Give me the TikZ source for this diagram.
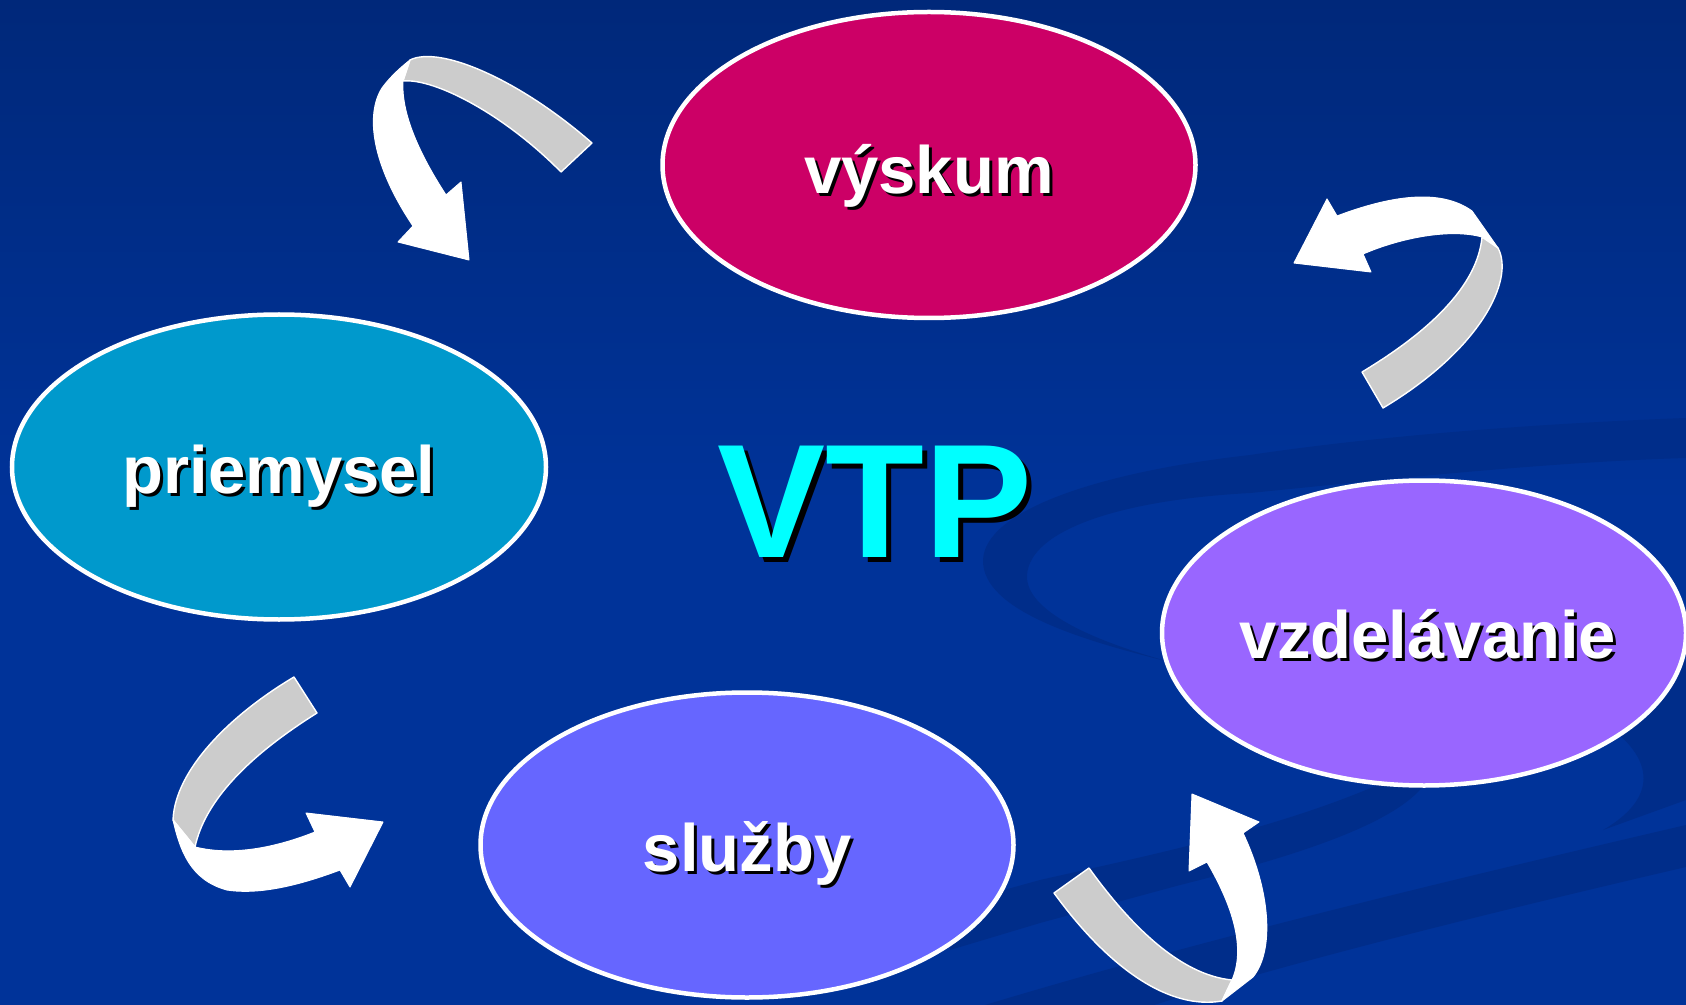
\documentclass[tikz,border=0pt]{standalone}
\usepackage{fontspec}
\setmainfont{Liberation Sans}
\usetikzlibrary{shapes.geometric}
\definecolor{bgblue}{HTML}{003399}
\definecolor{bgtop}{HTML}{00287A}
\definecolor{swirl}{HTML}{002D8A}
\definecolor{cvys}{HTML}{CC0066}
\definecolor{cpri}{HTML}{0099CC}
\definecolor{cvzd}{HTML}{9966FF}
\definecolor{csl}{HTML}{6666FF}
\definecolor{ribbon}{HTML}{CCCCCC}
\definecolor{vtpc}{HTML}{00FFFF}
\begin{document}
\begin{tikzpicture}[x=0.5pt,y=-0.5pt,
  bubble/.style={ellipse, draw=white, line width=2.25pt, inner sep=0pt},
  lbl/.style={anchor=base, font=\fontsize{33.5}{40}\selectfont\bfseries, inner sep=0pt, text=white},
  lblshadow/.style={lbl, text=black},
  bigtxt/.style={anchor=base, font=\fontsize{81}{90}\selectfont\bfseries, inner sep=0pt, text=vtpc},
  bigshadow/.style={bigtxt, text=black},
  ribbonpart/.style={fill=ribbon, draw=white, line width=0.7pt, line join=round},
  headpart/.style={fill=white, draw=white, line width=0.5pt, line join=round},
  swirlband/.style={fill=swirl}
]
\useasboundingbox (0,0) rectangle (1686,1005);
\shade[top color=bgtop, bottom color=bgblue, middle color=bgblue] (0,0) rectangle (1686,1005);
% background swirls
\path[swirlband] (1686,418) .. controls (1500,425) and (1350,440) .. (1250,455)
  .. controls (1100,472) and (985,510) .. (983,560)
  .. controls (982,610) and (1080,640) .. (1170,662)
  .. controls (1090,640) and (1025,610) .. (1027,575)
  .. controls (1030,530) and (1120,500) .. (1250,493)
  .. controls (1400,478) and (1550,462) .. (1686,458) -- cycle;
\path[swirlband] (950,905) -- (1040,880) .. controls (1150,855) and (1300,825) .. (1410,770)
  -- (1430,775) .. controls (1410,820) and (1300,855) .. (1180,885)
  -- (1040,923) -- (950,950) -- cycle;
\path[swirlband] (1603,830) .. controls (1655,800) and (1660,760) .. (1600,720)
  -- (1686,660) -- (1686,800) -- cycle;
\path[swirlband] (985,1005) .. controls (1200,940) and (1450,880) .. (1686,825)
  -- (1686,867) .. controls (1480,915) and (1300,960) .. (1154,1005) -- cycle;

% ellipses
\node[bubble, fill=cvys, minimum width=266.5pt, minimum height=153pt] (vys) at (929,165) {};
\node[bubble, fill=cpri, minimum width=267pt, minimum height=152.5pt] (pri) at (279,467) {};
\node[bubble, fill=cvzd, minimum width=262pt, minimum height=152.5pt] (vzd) at (1424,633) {};
\node[bubble, fill=csl, minimum width=266.5pt, minimum height=152.5pt] (sl) at (747,845) {};

% labels
\node[lblshadow] (vyss) at (932,196.5) {výskum};
\node[lbl] (vyst) at (929,193.5) {výskum};
\node[lblshadow] (pris) at (282,496) {priemysel};
\node[lbl] (prit) at (279,493) {priemysel};
\node[lblshadow] (vzds) at (1431,661) {vzdelávanie};
\node[lbl] (vzdt) at (1428,658) {vzdelávanie};
\node[lblshadow] (sls) at (750,874) {služby};
\node[lbl] (slt) at (747,871) {služby};
\node[bigshadow] (vtps) at (880,562) {VTP};
\node[bigtxt] (vtpt) at (875,557) {VTP};

% arrow 1 (top-left)
\path[ribbonpart] (410,60) .. controls (440,45) and (520,80) .. (592,143) -- (561,172) .. controls (505,115) and (435,78) .. (403,81) -- cycle;
\path[headpart] (410,60) .. controls (395,72) and (388,80) .. (382,88) .. controls (365,115) and (372,165) .. (413,226) -- (398,242) -- (469,260) -- (461,182) -- (446,195) .. controls (418,152) and (401,112) .. (403,81) -- cycle;

% arrow 2 (top-right)
\path[headpart] (1337,216) .. controls (1390,196) and (1440,188) .. (1472,211) -- (1498,248) -- (1482,237) .. controls (1450,228) and (1400,238) .. (1363,254) -- (1371,272) -- (1294,263) -- (1327,199) -- cycle;
\path[ribbonpart] (1482,237) -- (1498,248) .. controls (1515,280) and (1480,350) .. (1383,408) -- (1362,372) .. controls (1440,325) and (1478,280) .. (1482,237) -- cycle;

% arrow 3 (bottom-left)
\path[ribbonpart] (294,677) .. controls (230,715) and (175,770) .. (173,820) -- (195,847) .. controls (205,800) and (250,755) .. (317,713) -- cycle;
\path[headpart] (173,820) .. controls (180,850) and (190,880) .. (227,890) .. controls (260,895) and (300,885) .. (340,870) -- (350,887) -- (383,822) -- (306,813) -- (315,832) .. controls (280,846) and (235,857) .. (195,847) -- cycle;

% arrow 4 (bottom-right)
\path[ribbonpart] (1054,893) .. controls (1110,970) and (1170,1010) .. (1222,1001) -- (1232,980) .. controls (1180,975) and (1130,925) .. (1089,868) -- cycle;
\path[headpart] (1222,1001) -- (1253,977) .. controls (1275,950) and (1270,890) .. (1243,833) -- (1259,822) -- (1192,794) -- (1189,871) -- (1207,862) .. controls (1235,910) and (1245,950) .. (1232,980) -- cycle;
\end{tikzpicture}
\end{document}
